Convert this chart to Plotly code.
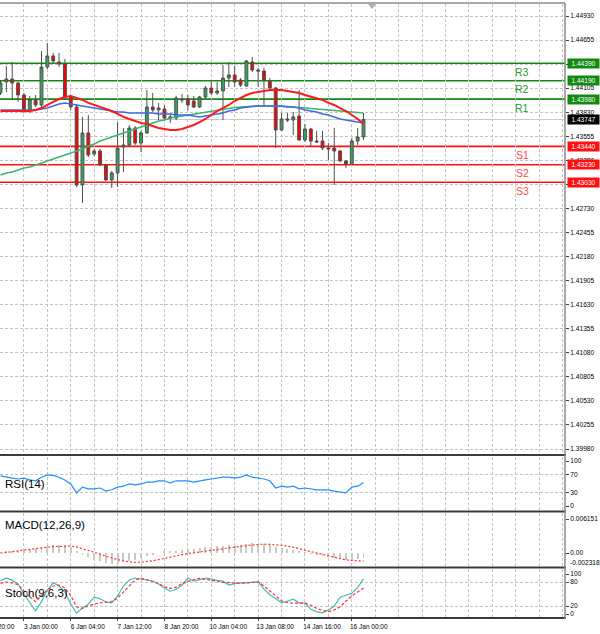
import plotly.graph_objects as go

W, H = 600, 634

# ---------------- data ----------------
opens = [1.44050, 1.44176, 1.44210, 1.44164, 1.44027, 1.43844, 1.43970, 1.43913, 1.44347, 1.44473,
         1.44404, 1.44381, 1.44004, 1.43890, 1.42998, 1.43593, 1.43353, 1.43387, 1.43227, 1.43056,
         1.43136, 1.43433, 1.43456, 1.43650, 1.43478, 1.43593, 1.43890, 1.43856, 1.43867, 1.43764,
         1.43764, 1.43981, 1.43981, 1.43958, 1.43890, 1.44004, 1.44107, 1.44050, 1.44073, 1.44221,
         1.44256, 1.44198, 1.44130, 1.44404, 1.44313, 1.44301, 1.44187, 1.44107, 1.43627, 1.43753,
         1.43741, 1.43787, 1.43513, 1.43638, 1.43501, 1.43501, 1.43421, 1.43421, 1.43387, 1.43273,
         1.43238, 1.43501, 1.43547]
highs = [1.44198, 1.44358, 1.44404, 1.44176, 1.44050, 1.44016, 1.44027, 1.44530, 1.44621, 1.44507,
         1.44507, 1.44439, 1.44027, 1.43924, 1.43776, 1.43798, 1.43410, 1.43410, 1.43238, 1.43158,
         1.43718, 1.43650, 1.43684, 1.43673, 1.43616, 1.44084, 1.44050, 1.43936, 1.43913, 1.43821,
         1.44016, 1.44038, 1.44027, 1.44016, 1.44016, 1.44130, 1.44198, 1.44176, 1.44370, 1.44404,
         1.44358, 1.44221, 1.44427, 1.44461, 1.44336, 1.44336, 1.44221, 1.44118, 1.43821, 1.43821,
         1.43833, 1.44084, 1.43696, 1.43650, 1.43616, 1.43616, 1.43478, 1.43650, 1.43398, 1.43284,
         1.43536, 1.43650, 1.43821]
lows = [1.44027, 1.44061, 1.43970, 1.43947, 1.43821, 1.43821, 1.43890, 1.43890, 1.44324, 1.44393,
        1.44347, 1.43970, 1.43856, 1.42976, 1.42793, 1.43318, 1.43330, 1.43216, 1.43044, 1.42964,
        1.42976, 1.43147, 1.43433, 1.43456, 1.43376, 1.43581, 1.43833, 1.43741, 1.43741, 1.43707,
        1.43741, 1.43936, 1.43856, 1.43878, 1.43878, 1.43981, 1.44027, 1.44027, 1.43741, 1.44118,
        1.44118, 1.44118, 1.44118, 1.44290, 1.44118, 1.43890, 1.44084, 1.43421, 1.43616, 1.43718,
        1.43570, 1.43501, 1.43490, 1.43433, 1.43478, 1.43398, 1.43284, 1.42998, 1.43261, 1.43193,
        1.43227, 1.43456, 1.43513]
closes = [1.44164, 1.44210, 1.44164, 1.44027, 1.43844, 1.43970, 1.43913, 1.44347, 1.44473, 1.44416,
          1.44381, 1.44004, 1.43890, 1.42998, 1.43593, 1.43341, 1.43387, 1.43227, 1.43056, 1.43136,
          1.43421, 1.43456, 1.43650, 1.43478, 1.43593, 1.43890, 1.43856, 1.43878, 1.43764, 1.43776,
          1.43993, 1.43970, 1.43913, 1.43890, 1.44004, 1.44107, 1.44050, 1.44073, 1.44221, 1.44256,
          1.44176, 1.44141, 1.44416, 1.44313, 1.44301, 1.44198, 1.44107, 1.43627, 1.43753, 1.43741,
          1.43776, 1.43513, 1.43638, 1.43501, 1.43490, 1.43421, 1.43410, 1.43387, 1.43273, 1.43238,
          1.43501, 1.43547, 1.43747]

ma_red = [1.43844, 1.43844, 1.43844, 1.43844, 1.43844, 1.43844, 1.43856, 1.43878, 1.43913, 1.43947,
          1.43981, 1.44004, 1.44016, 1.43993, 1.43970, 1.43936, 1.43913, 1.43890, 1.43867, 1.43844,
          1.43810, 1.43776, 1.43753, 1.43730, 1.43707, 1.43696, 1.43673, 1.43650, 1.43638, 1.43627,
          1.43627, 1.43638, 1.43661, 1.43684, 1.43718, 1.43753, 1.43798, 1.43844, 1.43878, 1.43913,
          1.43958, 1.43993, 1.44027, 1.44050, 1.44061, 1.44073, 1.44084, 1.44084, 1.44084, 1.44073,
          1.44061, 1.44050, 1.44027, 1.44010, 1.43987, 1.43970, 1.43936, 1.43913, 1.43878, 1.43844,
          1.43798, 1.43753, 1.43696]
ma_blue = [1.43856, 1.43856, 1.43856, 1.43856, 1.43856, 1.43856, 1.43856, 1.43867, 1.43878, 1.43901,
           1.43924, 1.43936, 1.43924, 1.43913, 1.43901, 1.43890, 1.43878, 1.43867, 1.43856, 1.43844,
           1.43833, 1.43833, 1.43821, 1.43821, 1.43821, 1.43821, 1.43821, 1.43810, 1.43810, 1.43810,
           1.43798, 1.43798, 1.43798, 1.43787, 1.43776, 1.43787, 1.43798, 1.43810, 1.43821, 1.43844,
           1.43856, 1.43878, 1.43890, 1.43896, 1.43901, 1.43901, 1.43901, 1.43901, 1.43901, 1.43890,
           1.43890, 1.43878, 1.43856, 1.43844, 1.43833, 1.43810, 1.43798, 1.43776, 1.43753, 1.43741,
           1.43730, 1.43718, 1.43707]
ma_green = [1.43113, 1.43136, 1.43147, 1.43170, 1.43193, 1.43204, 1.43227, 1.43250, 1.43273, 1.43296,
            1.43318, 1.43341, 1.43364, 1.43387, 1.43410, 1.43444, 1.43467, 1.43501, 1.43524, 1.43547,
            1.43570, 1.43593, 1.43616, 1.43638, 1.43661, 1.43684, 1.43707, 1.43730, 1.43741, 1.43764,
            1.43776, 1.43787, 1.43798, 1.43810, 1.43821, 1.43833, 1.43844, 1.43856, 1.43867, 1.43878,
            1.43884, 1.43890, 1.43896, 1.43901, 1.43901, 1.43901, 1.43901, 1.43901, 1.43901, 1.43896,
            1.43890, 1.43884, 1.43878, 1.43873, 1.43867, 1.43856, 1.43850, 1.43844, 1.43838, 1.43833,
            1.43833, 1.43827, 1.43821]

rsi = [67, 64, 62, 60, 62, 58, 56, 64, 69, 68,
       64, 58, 49, 29, 42, 38, 38, 40, 33, 36,
       42, 44, 49, 47, 49, 53, 53, 56, 56, 51,
       56, 56, 56, 53, 56, 58, 60, 62, 64, 64,
       62, 64, 69, 64, 62, 60, 56, 40, 44, 42,
       44, 38, 40, 38, 36, 36, 36, 33, 31, 29,
       42, 44, 52]

macd_main = [0.0001, 0.0002, 0.0002, 0.0003, 0.0004, 0.0006, 0.0008, 0.0011, 0.0013, 0.0014,
             0.0015, 0.0014, 0.0010, 0.0003, -0.0003, -0.0008, -0.0012, -0.0015, -0.0018, -0.0019,
             -0.0018, -0.0016, -0.0015, -0.0013, -0.0009, -0.0006, -0.0003, 0.0000, 0.0002, 0.0003,
             0.0004, 0.0006, 0.0007, 0.0008, 0.0009, 0.0010, 0.0011, 0.0012, 0.0013, 0.0014,
             0.0015, 0.0015, 0.0017, 0.0018, 0.0017, 0.0016, 0.0015, 0.0010, 0.0009, 0.0007,
             0.0005, 0.0003, 0.0001, -0.0001, -0.0004, -0.0006, -0.0008, -0.0009, -0.0011, -0.0013,
             -0.0012, -0.0011, -0.0009]
macd_signal = [0.0000, 0.0001, 0.0002, 0.00035, 0.0005, 0.00065, 0.0008, 0.00095, 0.00105, 0.00115,
               0.0012, 0.00125, 0.00125, 0.0011, 0.0008, 0.0005, 0.00015, -0.0002, -0.0006, -0.0009,
               -0.0012, -0.00145, -0.0016, -0.0017, -0.00165, -0.00155, -0.0014, -0.0012, -0.00095, -0.0007,
               -0.0005, -0.0003, -0.0001, 0.00005, 0.0002, 0.00035, 0.0005, 0.0007, 0.00085, 0.0010,
               0.0011, 0.00125, 0.00135, 0.00145, 0.00155, 0.0016, 0.00155, 0.0015, 0.0014, 0.00125,
               0.00105, 0.0008, 0.0005, 0.00025, 0.0000, -0.0003, -0.0006, -0.00085, -0.00105, -0.00125,
               -0.00135, -0.00145, -0.00145]

stoch_main = [83, 90, 84, 75, 50, 28, 8, 31, 60, 78,
              70, 55, 25, 2, 15, 25, 42, 38, 30, 28,
              45, 70, 85, 90, 88, 85, 82, 75, 65, 57,
              62, 72, 90, 82, 86, 90, 88, 84, 82, 72,
              76, 78, 78, 80, 81, 62, 48, 38, 28, 32,
              37, 28, 27, 12, 6, 3, 10, 20, 42, 47,
              52, 66, 88]
stoch_signal = [77, 80, 78, 73, 58, 43, 31, 45, 60, 70,
                72, 65, 46, 18, 14, 20, 25, 28, 30, 31,
                40, 55, 72, 85, 89, 86, 82, 76, 68, 64,
                67, 76, 82, 86, 89, 87, 85, 82, 79, 78,
                77, 77, 78, 79, 80, 70, 58, 45, 33, 29,
                27, 27, 27, 22, 14, 9, 6, 10, 18, 32,
                45, 55, 65]

price_ticks = [1.44930, 1.44655, 1.44380, 1.44105, 1.43830, 1.43555, 1.43280, 1.43005, 1.42730,
               1.42455, 1.42180, 1.41905, 1.41630, 1.41355, 1.41080, 1.40805, 1.40530, 1.40255, 1.39980]
time_tick_idx = [4, 12, 20, 28, 36, 44, 52, 60]
time_tick_labels = ["3 Jan 00:00", "6 Jan 04:00", "7 Jan 12:00", "8 Jan 20:00",
                    "10 Jan 04:00", "13 Jan 08:00", "14 Jan 16:00", "16 Jan 00:00"]
level_names = ["R3", "R2", "R1", "S1", "S2", "S3"]
level_values = [1.44390, 1.44190, 1.43980, 1.43440, 1.43230, 1.43030]
last_price = 1.43747
rsi_ticks = [0, 30, 70, 100]
rsi_levels = [30, 70]
stoch_ticks = [0, 20, 80, 100]
stoch_levels = [20, 80]
macd_max, macd_min = 0.006151, -0.002318

# ---------------- layout geometry (pixels) ----------------
PLOT_R = 565
CANDLE_PX = 5.855
X0_PX = 0.5
FONT = "Liberation Sans"
GRID = "#c4c4c4"
GDASH = "3px,2px"


def fx(px):
    return px / W


def fy(py):
    return 1 - py / H


def lin_range(v_a, py_a, v_b, py_b, top_px, bot_px):
    k = (v_a - v_b) / (py_b - py_a)
    return [v_b - (bot_px - py_b) * k, v_a + (py_a - top_px) * k]


x = list(range(len(opens)))
x_range = [(0 - X0_PX) / CANDLE_PX, (PLOT_R - X0_PX) / CANDLE_PX]

main_dom = [fy(454), fy(4)]
rsi_dom = [fy(510), fy(457)]
macd_dom = [fy(566), fy(513)]
stoch_dom = [fy(617), fy(569)]

main_range = lin_range(price_ticks[0], 16, price_ticks[-1], 449, 4, 454)
rsi_range = lin_range(100, 461, 0, 506, 457, 510)
macd_range = lin_range(macd_max, 519, 0.0, 553, 513, 566)
stoch_range = lin_range(100, 574, 0, 614, 569, 617)

fig = go.Figure()

fig.add_trace(go.Candlestick(
    x=x, open=opens, high=highs, low=lows, close=closes,
    xaxis="x", yaxis="y",
    increasing=dict(line=dict(color="#505050", width=1), fillcolor="#36a35f"),
    decreasing=dict(line=dict(color="#505050", width=1), fillcolor="#ff0000"),
    whiskerwidth=0, showlegend=False, hoverinfo="skip"))

fig.add_trace(go.Scatter(x=x, y=ma_green, mode="lines", line=dict(color="#3cb371", width=1.5),
                         xaxis="x", yaxis="y", showlegend=False, hoverinfo="skip"))
fig.add_trace(go.Scatter(x=x, y=ma_blue, mode="lines", line=dict(color="#4169e1", width=1.5),
                         xaxis="x", yaxis="y", showlegend=False, hoverinfo="skip"))
fig.add_trace(go.Scatter(x=x, y=ma_red, mode="lines", line=dict(color="#ff1a1a", width=2),
                         xaxis="x", yaxis="y", showlegend=False, hoverinfo="skip"))

fig.add_trace(go.Scatter(x=x, y=rsi, mode="lines", line=dict(color="#1e90ff", width=1.2),
                         xaxis="x2", yaxis="y2", showlegend=False, hoverinfo="skip"))

fig.add_trace(go.Bar(x=x, y=macd_main, width=0.16, marker=dict(color="#c8c8c8", line=dict(width=0)),
                     xaxis="x3", yaxis="y3", showlegend=False, hoverinfo="skip"))
fig.add_trace(go.Scatter(x=x, y=macd_signal, mode="lines", line=dict(color="#ff3030", width=1.2, dash="2px,2px"),
                         xaxis="x3", yaxis="y3", showlegend=False, hoverinfo="skip"))

fig.add_trace(go.Scatter(x=x, y=stoch_main, mode="lines", line=dict(color="#3cbfb5", width=1.2),
                         xaxis="x4", yaxis="y4", showlegend=False, hoverinfo="skip"))
fig.add_trace(go.Scatter(x=x, y=stoch_signal, mode="lines", line=dict(color="#ff3030", width=1.2, dash="3px,2px"),
                         xaxis="x4", yaxis="y4", showlegend=False, hoverinfo="skip"))

grid_vals = list(range(0, int(x_range[1]) + 1, 4))
xcommon = dict(domain=[0, fx(PLOT_R)], range=x_range, showgrid=True, gridcolor=GRID, griddash=GDASH,
               gridwidth=1, zeroline=False, showline=False, fixedrange=True)

tickfont = dict(family=FONT, size=6.6, color="#000000")
ycommon = dict(side="right", showline=False, zeroline=False, ticks="outside", ticklen=3,
               tickcolor="#404040", tickfont=tickfont, fixedrange=True)

fig.update_layout(
    width=W, height=H, margin=dict(l=0, r=0, t=0, b=0),
    paper_bgcolor="white", plot_bgcolor="white",
    font=dict(family=FONT, color="#000000"),
    bargap=0,
    xaxis=dict(**xcommon, anchor="y", tickvals=grid_vals, showticklabels=False, ticks="",
               rangeslider=dict(visible=False)),
    xaxis2=dict(**xcommon, anchor="y2", matches="x", tickvals=grid_vals, showticklabels=False, ticks=""),
    xaxis3=dict(**xcommon, anchor="y3", matches="x", tickvals=grid_vals, showticklabels=False, ticks=""),
    xaxis4=dict(**xcommon, anchor="y4", matches="x", tickvals=time_tick_idx, ticktext=time_tick_labels,
                ticks="outside", ticklen=3, tickcolor="#404040",
                tickfont=dict(family=FONT, size=6.5, color="#000000"), ticklabelshift=17,
                minor=dict(tickvals=grid_vals, showgrid=True, gridcolor=GRID, griddash=GDASH, ticks="")),
    yaxis=dict(**ycommon, domain=main_dom, range=main_range, anchor="x",
               tickvals=price_ticks, ticktext=[f"{v:.5f}" for v in price_ticks],
               showgrid=True, gridcolor=GRID, griddash=GDASH),
    yaxis2=dict(**ycommon, domain=rsi_dom, range=rsi_range, anchor="x2",
                tickvals=rsi_ticks, ticktext=[str(v) for v in rsi_ticks], showgrid=False,
                minor=dict(tickvals=rsi_levels, showgrid=True, gridcolor=GRID, griddash=GDASH, ticks="")),
    yaxis3=dict(**ycommon, domain=macd_dom, range=macd_range, anchor="x3",
                tickvals=[macd_max, 0.0], ticktext=[f"{macd_max:.6f}", "0.00"], showgrid=False),
    yaxis4=dict(**ycommon, domain=stoch_dom, range=stoch_range, anchor="x4",
                tickvals=stoch_ticks, ticktext=[str(v) for v in stoch_ticks], showgrid=False,
                minor=dict(tickvals=stoch_levels, showgrid=True, gridcolor=GRID, griddash=GDASH, ticks="")),
)

shapes = []
annotations = []

# current price line
shapes.append(dict(type="line", xref="x domain", x0=0, x1=1, yref="y", y0=last_price, y1=last_price,
                   line=dict(color="#c8c8c8", width=1), layer="below"))

# support / resistance levels
for name, val in zip(level_names, level_values):
    col = "#128a12" if name.startswith("R") else "#ff1010"
    tcol = "#2e9a2e" if name.startswith("R") else "#ff4a4a"
    shapes.append(dict(type="line", xref="x domain", x0=0, x1=1, yref="y", y0=val, y1=val,
                       line=dict(color=col, width=1.6), layer="below"))
    annotations.append(dict(xref="paper", x=fx(522), yref="y", y=val, yshift=-8.5, text=name,
                            showarrow=False, font=dict(family=FONT, size=10.5, color=tcol),
                            xanchor="center", yanchor="middle"))
    annotations.append(dict(xref="paper", x=fx(567), yref="y", y=val, text=f"{val:.5f}",
                            showarrow=False, font=dict(family=FONT, size=6.6, color="#ffffff"),
                            bgcolor=col, width=31, height=9, borderpad=0,
                            xanchor="left", yanchor="middle"))

annotations.append(dict(xref="paper", x=fx(567), yref="y", y=last_price, text=f"{last_price:.5f}",
                        showarrow=False, font=dict(family=FONT, size=6.6, color="#ffffff"),
                        bgcolor="#000000", width=31, height=9, borderpad=0,
                        xanchor="left", yanchor="middle"))

# panel titles
for txt, py in [("RSI(14)", 484), ("MACD(12,26,9)", 525), ("Stoch(9,6,3)", 593)]:
    annotations.append(dict(xref="paper", x=fx(3), yref="paper", y=fy(py), text=txt, showarrow=False,
                            font=dict(family=FONT, size=11.5, color="#000000"),
                            xanchor="left", yanchor="middle"))

annotations.append(dict(xref="paper", x=fx(568), yref="paper", y=fy(562), text=f"{macd_min:.6f}",
                        showarrow=False, font=tickfont, xanchor="left", yanchor="middle"))
annotations.append(dict(xref="paper", x=fx(17), yref="paper", y=fy(626), text="20:00",
                        showarrow=False, font=dict(family=FONT, size=6.5, color="#000000"),
                        xanchor="right", yanchor="middle"))

# frame lines
shapes.append(dict(type="line", xref="paper", yref="paper", x0=0, x1=fx(PLOT_R), y0=fy(3), y1=fy(3),
                   line=dict(color="#a8a8a8", width=2)))
for py in [455, 511.5, 567.5, 618]:
    shapes.append(dict(type="line", xref="paper", yref="paper", x0=0, x1=fx(PLOT_R + 1), y0=fy(py), y1=fy(py),
                       line=dict(color="#3c3c3c", width=2)))
shapes.append(dict(type="line", xref="paper", yref="paper", x0=fx(PLOT_R), x1=fx(PLOT_R), y0=fy(3), y1=fy(619),
                   line=dict(color="#8a8a8a", width=1.5)))
# chart-shift marker
tx, ty = 372, 5
shapes.append(dict(type="path", xref="paper", yref="paper",
                   path=f"M {fx(tx-4)},{fy(ty-1)} L {fx(tx+4)},{fy(ty-1)} L {fx(tx)},{fy(ty+4)} Z",
                   fillcolor="#b0b0b0", line=dict(color="#b0b0b0", width=0)))

fig.update_layout(shapes=shapes, annotations=annotations)

fig.write_html("out.html", config={"displayModeBar": False},
               post_script="document.body.style.margin='0';document.body.style.overflow='hidden';")
